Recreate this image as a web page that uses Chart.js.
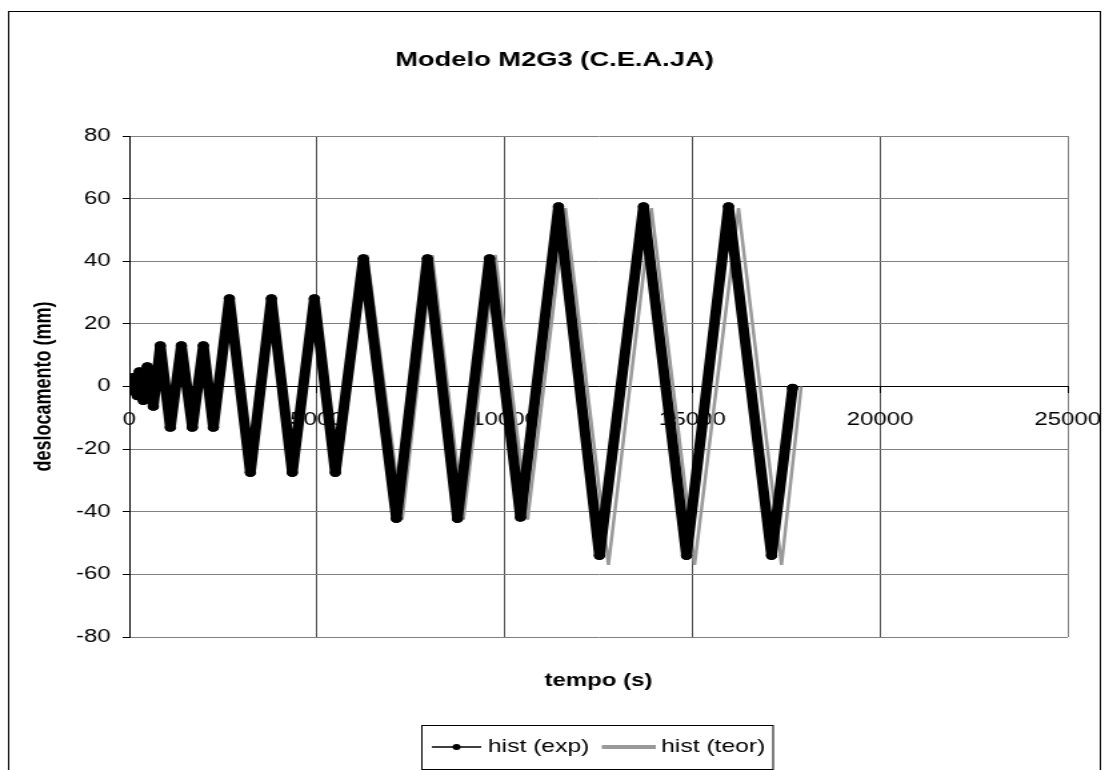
<!DOCTYPE html>
<html>
<head>
<meta charset="utf-8">
<title>Modelo M2G3 (C.E.A.JA)</title>
<script src="https://cdn.jsdelivr.net/npm/chart.js@4.4.1/dist/chart.umd.min.js"></script>
<style>
  html, body { margin: 0; padding: 0; background: #fff; }
  canvas { display: block; }
</style>
</head>
<body>
<!-- drawn at 832 px wide and shown at 1109 px, like the stretched original picture -->
<canvas id="chart" width="832" height="770" style="width:1109px;height:770px"></canvas>
<script>
// === Data (vertices of the displacement history) ===
const expTime = [0, 40, 80, 133, 213, 267, 373, 480, 640,
  826, 1093, 1386, 1679, 1972, 2239,
  2665, 3225, 3785, 4344, 4931, 5490,
  6236, 7116, 7942, 8742, 9595, 10421,
  11434, 12526, 13699, 14845, 15964, 17110, 17670];
const expDispl = [0, 1.5, -1.5, 3, -3, 4.8, -4.5, 6.4, -6.4,
  13.1, -13.1, 13.1, -13.1, 13.1, -13.1,
  28.1, -27.5, 28.1, -27.5, 28.1, -27.5,
  40.9, -42.2, 40.9, -42.2, 40.9, -41.8,
  57.5, -54, 57.5, -54, 57.5, -54, -0.5];

const teorTime = [0, 45, 85, 140, 220, 275, 380, 490, 650,
  853, 1119, 1413, 1706, 1999, 2265,
  2700, 3265, 3825, 4415, 5000, 5565,
  6330, 7270, 8070, 8900, 9750, 10610,
  11620, 12765, 13910, 15060, 16230, 17375, 17900];
const teorDispl = [0, 1.75, -1.75, 3.5, -3.5, 5.25, -5.25, 7, -7,
  14, -14, 14, -14, 14, -14,
  28, -28, 28, -28, 28, -28,
  42, -42.5, 42, -42.5, 42, -42.5,
  57, -57, 57, -57, 57, -57, 0];

const seriesNames = ["hist (exp)", "hist (teor)"];
const xTicks = [0, 5000, 10000, 15000, 20000, 25000];
const yTicks = [-80, -60, -40, -20, 0, 20, 40, 60, 80];
const chartTitle = "Modelo M2G3 (C.E.A.JA)";

const FONT = '"Liberation Sans", Arial, Helvetica, sans-serif';
Chart.defaults.font.family = FONT;
Chart.defaults.color = "#000";

function toPoints(xs, ys) {
  return xs.map((x, i) => ({ x: x, y: ys[i] }));
}

// === Frame, titles and legend ===
const decorations = {
  id: "decorations",
  beforeDraw(chart) {
    const c = chart.ctx;
    c.save();
    c.fillStyle = "#fff";
    c.fillRect(0, 0, chart.width, chart.height);
    c.restore();
  },
  afterDraw(chart) {
    const c = chart.ctx;
    const area = chart.chartArea;
    const ds = chart.data.datasets;
    c.save();

    // outer chart border
    c.strokeStyle = "#000";
    c.lineWidth = 1;
    c.strokeRect(6.5, 11.5, 819, 800);

    // chart title, centred on the whole picture
    c.fillStyle = "#000";
    c.textAlign = "center";
    c.textBaseline = "middle";
    c.font = "bold 20.5px " + FONT;
    c.fillText(chartTitle, 416, 60);

    // x axis title
    c.font = "bold 18px " + FONT;
    c.fillText("tempo (s)", (area.left + area.right) / 2, 681);

    // legend box
    const ly = 747;
    c.strokeStyle = "#000";
    c.lineWidth = 1;
    c.strokeRect(316.5, 725.5, 263.5, 44);

    c.strokeStyle = ds[0].borderColor;
    c.lineWidth = 1.5;
    c.beginPath();
    c.moveTo(324, ly);
    c.lineTo(361, ly);
    c.stroke();
    c.fillStyle = ds[0].borderColor;
    c.beginPath();
    c.arc(342.5, ly, 3, 0, Math.PI * 2);
    c.fill();

    c.strokeStyle = ds[1].borderColor;
    c.lineWidth = 4;
    c.beginPath();
    c.moveTo(451.5, ly);
    c.lineTo(492, ly);
    c.stroke();

    c.fillStyle = "#000";
    c.font = "18.5px " + FONT;
    c.textAlign = "left";
    c.fillText(ds[0].label, 366, ly);
    c.fillText(ds[1].label, 496, ly);
    c.restore();
  }
};

const ctx = document.getElementById("chart").getContext("2d");
new Chart(ctx, {
  type: "line",
  data: {
    datasets: [
      {
        label: seriesNames[0],
        data: toPoints(expTime, expDispl),
        borderColor: "#000000",
        backgroundColor: "#000000",
        borderWidth: 8,
        borderJoinStyle: "round",
        borderCapStyle: "round",
        pointRadius: 4.3,
        pointBorderWidth: 0,
        pointBackgroundColor: "#000000",
        tension: 0
      },
      {
        label: seriesNames[1],
        data: toPoints(teorTime, teorDispl),
        borderColor: "#999999",
        backgroundColor: "#999999",
        borderWidth: 2.5,
        pointRadius: 0,
        tension: 0
      }
    ]
  },
  options: {
    responsive: false,
    devicePixelRatio: 1,
    animation: false,
    layout: { padding: { left: 0, right: 31, top: 136, bottom: 133 } },
    plugins: {
      legend: { display: false },
      tooltip: { enabled: false },
      title: { display: false }
    },
    scales: {
      x: {
        type: "linear",
        min: xTicks[0],
        max: xTicks[xTicks.length - 1],
        position: { y: 0 },
        afterBuildTicks(scale) {
          scale.ticks = xTicks.map(v => ({ value: v }));
        },
        afterFit(scale) {
          // labels may overhang; keep the plot area where the original has it
          scale.paddingLeft = 0;
          scale.paddingRight = 0;
        },
        ticks: {
          padding: 17,
          font: { size: 18 },
          maxRotation: 0,
          autoSkip: false,
          callback: v => String(v)
        },
        grid: {
          color: c => (c.tick && c.tick.value === 25000 ? "#808080" : "#4d4d4d"),
          tickColor: "#000",
          tickLength: 6
        },
        border: { color: "#000", width: 1 }
      },
      y: {
        min: yTicks[0],
        max: yTicks[yTicks.length - 1],
        afterBuildTicks(scale) {
          scale.ticks = yTicks.map(v => ({ value: v }));
        },
        afterFit(scale) {
          scale.width = 97;
          scale.paddingTop = 0;
          scale.paddingBottom = 0;
        },
        ticks: { padding: 9, font: { size: 18 } },
        grid: { color: "#808080", tickColor: "#000", tickLength: 5 },
        border: { color: "#000", width: 1 },
        title: {
          display: true,
          text: "deslocamento (mm)",
          font: { size: 18, weight: "bold" },
          padding: { top: 22.5, bottom: 0 }
        }
      }
    }
  },
  plugins: [decorations]
});
</script>
</body>
</html>
